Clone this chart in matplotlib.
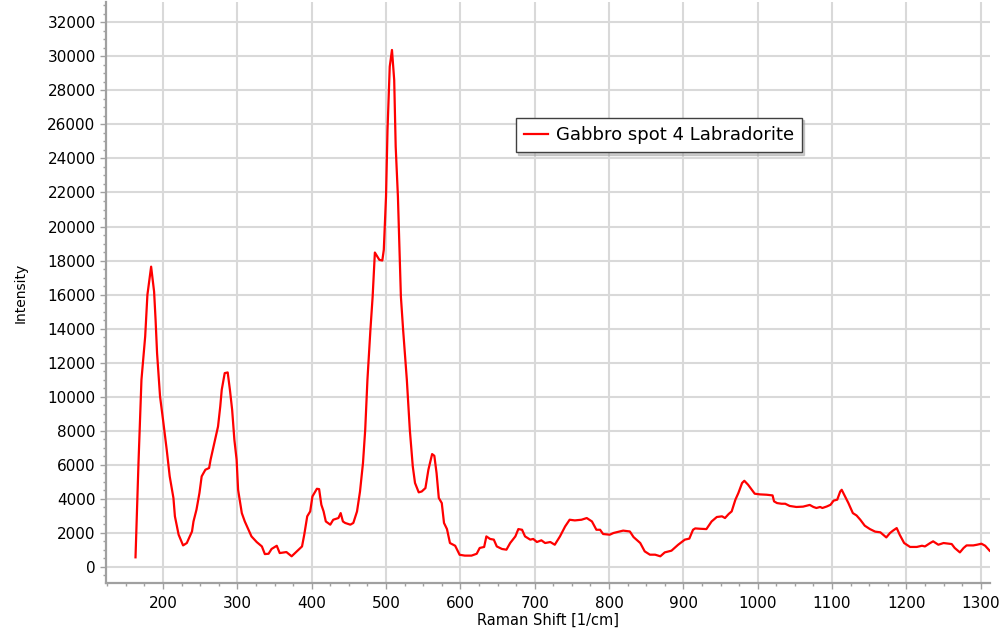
import matplotlib
matplotlib.use("Agg")
import matplotlib.pyplot as plt
from matplotlib.ticker import MultipleLocator

# Raman shift [1/cm] and intensity
shift = [163, 167, 171, 176, 179, 184, 188, 190, 192, 196, 200, 205, 209, 214,
         216, 221, 227, 232, 239, 241, 245, 249, 252, 257, 262, 264, 269, 274,
         277, 279, 283, 287, 290, 293, 296, 299, 301, 306, 310, 315, 319, 326,
         333, 337, 342, 346, 353, 357, 366, 373, 380, 387, 390, 394, 398, 401,
         407, 410, 413, 416, 419, 425, 429, 436, 439, 442, 445, 452, 456, 461,
         465, 469, 472, 475, 479, 482, 485, 491, 495, 497, 500, 502, 505, 508,
         511, 513, 516, 518, 520, 523, 528, 532, 536, 539, 544, 548, 553, 557,
         562, 565, 568, 571, 575, 578, 582, 586, 593, 599, 606, 615, 622, 626,
         632, 635, 640, 645, 649, 656, 662, 667, 674, 678, 683, 687, 694, 698,
         703, 709, 714, 721, 727, 734, 741, 747, 754, 763, 770, 777, 783, 788,
         792, 801, 806, 819, 828, 833, 842, 848, 855, 862, 869, 875, 884, 893,
         902, 908, 913, 916, 922, 931, 938, 945, 952, 956, 961, 965, 970, 974,
         979, 982, 987, 992, 996, 1003, 1012, 1020, 1022, 1026, 1032, 1037,
         1043, 1052, 1061, 1070, 1075, 1079, 1084, 1087, 1093, 1098, 1102,
         1107, 1111, 1113, 1117, 1122, 1128, 1133, 1138, 1144, 1151, 1158,
         1165, 1173, 1178, 1182, 1187, 1191, 1197, 1205, 1214, 1221, 1225,
         1232, 1236, 1243, 1250, 1261, 1265, 1272, 1277, 1281, 1290, 1295,
         1301, 1306, 1312]
intensity = [550, 6090, 10990, 13530, 15980, 17640, 16170, 14510, 12550,
             10010, 8640, 6870, 5310, 4040, 2960, 1880, 1250, 1390, 2070, 2660,
             3350, 4330, 5310, 5700, 5800, 6290, 7270, 8240, 9420, 10400, 11380,
             11420, 10400, 9220, 7460, 6290, 4520, 3150, 2660, 2170, 1780, 1450,
             1190, 740, 760, 1040, 1230, 800, 860, 610, 900, 1190, 1880, 2960,
             3250, 4130, 4580, 4560, 3640, 3250, 2660, 2470, 2760, 2860, 3150,
             2660, 2570, 2470, 2570, 3250, 4420, 6090, 8050, 10990, 13925,
             15880, 18470, 18040, 18000, 18630, 21760, 25680, 29400, 30380,
             28610, 24700, 21760, 18820, 15880, 13925, 10990, 8050, 5890, 4920,
             4370, 4420, 4620, 5700, 6620, 6520, 5500, 4040, 3740, 2570, 2210,
             1390, 1230, 700, 650, 650, 760, 1100, 1160, 1780, 1630, 1590, 1190,
             1040, 1000, 1390, 1780, 2210, 2170, 1780, 1590, 1630, 1450, 1550,
             1390, 1450, 1290, 1780, 2370, 2760, 2720, 2760, 2860, 2660, 2170,
             2170, 1920, 1880, 1980, 2120, 2070, 1740, 1390, 900, 705, 705, 610,
             840, 940, 1290, 1590, 1650, 2170, 2250, 2230, 2210, 2660, 2920,
             2960, 2860, 3100, 3250, 3940, 4330, 4920, 5050, 4820, 4520, 4290,
             4250, 4230, 4190, 3840, 3740, 3700, 3700, 3570, 3510, 3530, 3630,
             3510, 3450, 3510, 3450, 3540, 3640, 3880, 3940, 4420, 4520, 4170,
             3740, 3150, 3010, 2760, 2410, 2210, 2060, 2020, 1720, 1980, 2120,
             2270, 1880, 1390, 1160, 1160, 1230, 1190, 1390, 1490, 1290, 1390,
             1330, 1100, 840, 1100, 1250, 1250, 1290, 1350, 1230, 940]

label = 'Gabbro spot 4 Labradorite'

fig = plt.figure(figsize=(10.03, 6.38), dpi=100)
ax = fig.add_axes([106 / 1003, 1 - 583 / 638, 884 / 1003, 581 / 638])

ax.plot(shift, intensity, color='#ff0000', lw=1.6, label=label)

ax.set_xlim(123.3, 1312.5)
ax.set_ylim(-960, 33200)
ax.xaxis.set_major_locator(MultipleLocator(100))
ax.xaxis.set_minor_locator(MultipleLocator(25))
ax.yaxis.set_major_locator(MultipleLocator(2000))
ax.yaxis.set_minor_locator(MultipleLocator(500))

ax.grid(True, which='major', color='#d9d9d9', lw=1.5)
ax.set_axisbelow(True)
for s in ['top', 'right']:
    ax.spines[s].set_visible(False)
for s in ['left', 'bottom']:
    ax.spines[s].set_color('#a0a0a0')
    ax.spines[s].set_linewidth(1.6)

ax.tick_params(which='major', length=4, width=1, color='#a0a0a0',
               labelsize=11, pad=3.5)
ax.tick_params(which='minor', length=2.5, width=1, color='#a0a0a0')
ax.tick_params(axis='x', which='major', pad=5)

ax.set_xlabel('Raman Shift [1/cm]', fontsize=10.5, labelpad=2)
ax.set_ylabel('Intensity', fontsize=10, labelpad=14)

leg = ax.legend(loc='upper left', bbox_to_anchor=(0.4638, 0.800),
                borderaxespad=0, fontsize=13, fancybox=False,
                shadow={'ox': 1.5, 'oy': -1.5, 'color': '#a0a0a0'},
                handlelength=1.3, handletextpad=0.45, borderpad=0.45,
                framealpha=1)
leg.get_frame().set_edgecolor('#404040')
leg.get_frame().set_linewidth(1.0)

fig.savefig('out.png', dpi=100)
